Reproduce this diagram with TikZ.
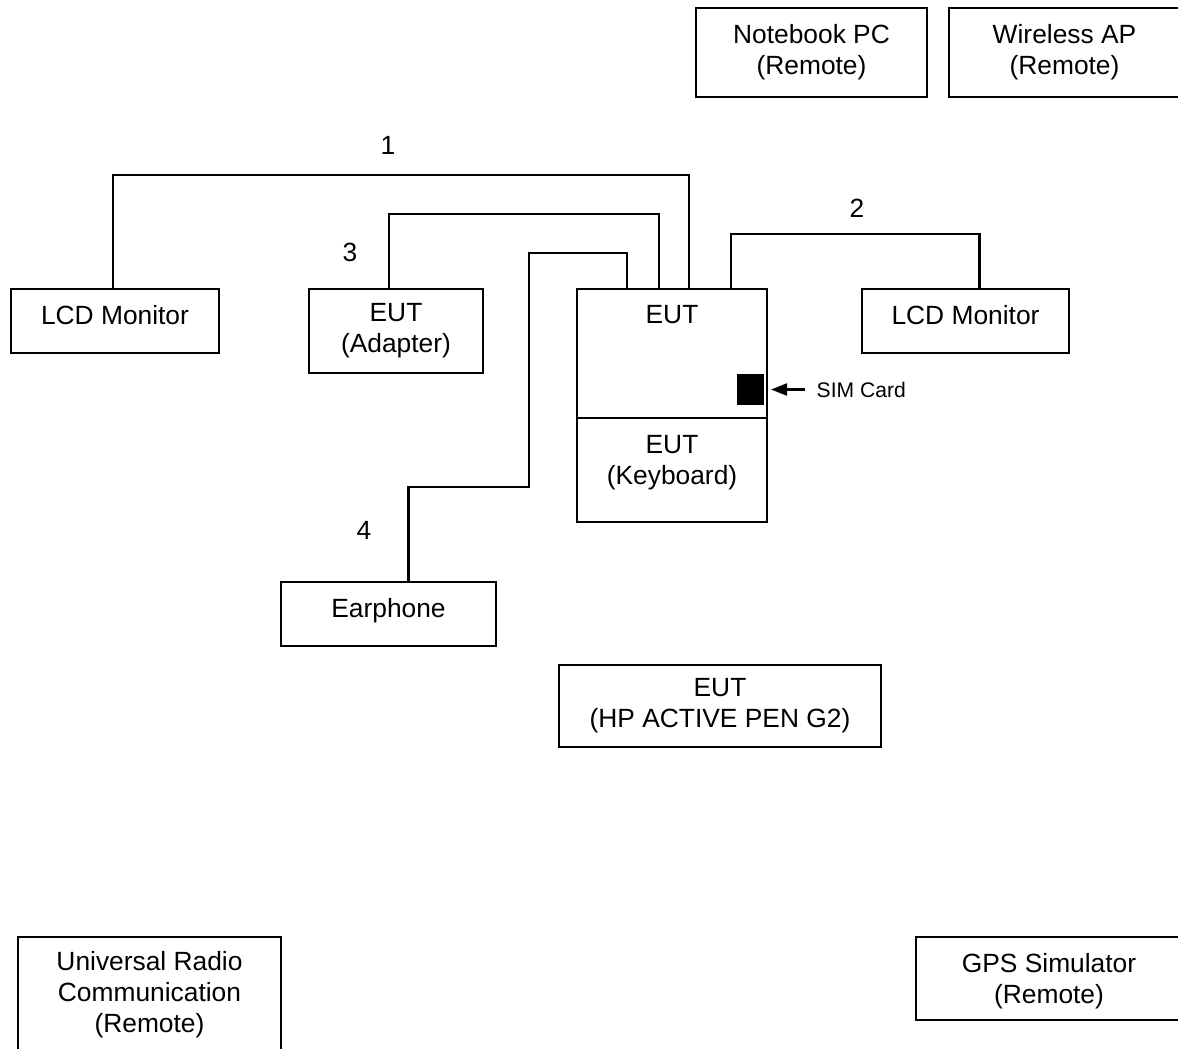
\documentclass[tikz,border=0pt]{standalone}
\usepackage{fontspec}
\setmainfont{Liberation Sans}
\usetikzlibrary{arrows.meta}

\begin{document}
\begin{tikzpicture}[
  font=\fontsize{7.5}{8.8}\selectfont,
  unit/.style={draw, line width=0.6pt, align=center, inner sep=0pt, outer sep=0pt, anchor=north west},
  raised/.style={text depth=0.13cm},
  cable/.style={line width=0.6pt},
  num/.style={inner sep=0pt},
]
\useasboundingbox (0,0) rectangle (11.78,-10.48);

% remote units
\node[unit, minimum width=2.31cm, minimum height=0.89cm] (nbpc) at (6.96,-0.08) {Notebook PC\\(Remote)};
\node[unit, minimum width=2.31cm, minimum height=0.89cm] (wap) at (9.49,-0.08) {Wireless AP\\(Remote)};
\node[unit, minimum width=2.63cm, minimum height=1.16cm] (urc) at (0.18,-9.37) {Universal Radio\\Communication\\(Remote)};
\node[unit, text depth=0cm, minimum width=2.66cm, minimum height=0.83cm] (gps) at (9.16,-9.37) {GPS Simulator\\(Remote)};

% local units
\node[unit, raised, minimum width=2.08cm, minimum height=0.64cm] (lcdL) at (0.11,-2.89) {LCD Monitor};
\node[unit, minimum width=1.74cm, minimum height=0.84cm] (adp) at (3.09,-2.89) {EUT\\(Adapter)};
\node[unit, raised, minimum width=2.07cm, minimum height=0.64cm] (lcdR) at (8.62,-2.89) {LCD Monitor};
\node[unit, raised, minimum width=2.15cm, minimum height=0.64cm] (ear) at (2.81,-5.82) {Earphone};
\node[unit, minimum width=3.22cm, minimum height=0.82cm] (pen) at (5.59,-6.65) {EUT\\(HP ACTIVE PEN G2)};

% EUT with keyboard
\node[unit, minimum width=1.90cm, minimum height=1.29cm] (eut) at (5.77,-2.89) {};
\node (euttxt) at ([yshift=-0.26cm]eut.north) {EUT};
\node[unit, anchor=north, text depth=0.2cm, minimum width=1.90cm, minimum height=1.04cm] (kbd) at (eut.south) {EUT\\(Keyboard)};
\node[fill, inner sep=0pt, minimum width=0.27cm, minimum height=0.31cm, anchor=east] (sim)
  at ([xshift=-0.02cm,yshift=-0.36cm]eut.east) {};
\node[font=\fontsize{6}{7}\selectfont, inner sep=0pt, anchor=west] (simlbl) at ([xshift=0.51cm]sim.east) {SIM Card};
\draw[cable, -{Triangle[length=0.16cm, width=0.12cm]}] ([xshift=-0.11cm]simlbl.west) -- ([xshift=0.06cm]sim.east);

% cables
\draw[cable] ([xshift=-0.02cm]lcdL.north) |- ([xshift=0.17cm,yshift=1.14cm]eut.north) -- ([xshift=0.17cm]eut.north);
\draw[cable] ([xshift=0.59cm]eut.north) |- ([xshift=0.14cm,yshift=0.55cm]lcdR.north) -- ([xshift=0.14cm]lcdR.north);
\draw[cable] ([xshift=-0.07cm]adp.north) |- ([xshift=-0.13cm,yshift=0.75cm]eut.north) -- ([xshift=-0.13cm]eut.north);
\coordinate (bend) at (5.29,-4.87);
\draw[cable] ([xshift=0.2cm]ear.north) |- (bend) |- ([xshift=-0.45cm,yshift=0.36cm]eut.north) -- ([xshift=-0.45cm]eut.north);

\node[num] (n1) at (3.88,-1.45) {1};
\node[num] (n2) at (8.57,-2.08) {2};
\node[num] (n3) at (3.50,-2.52) {3};
\node[num] (n4) at (3.64,-5.30) {4};

\end{tikzpicture}
\end{document}
